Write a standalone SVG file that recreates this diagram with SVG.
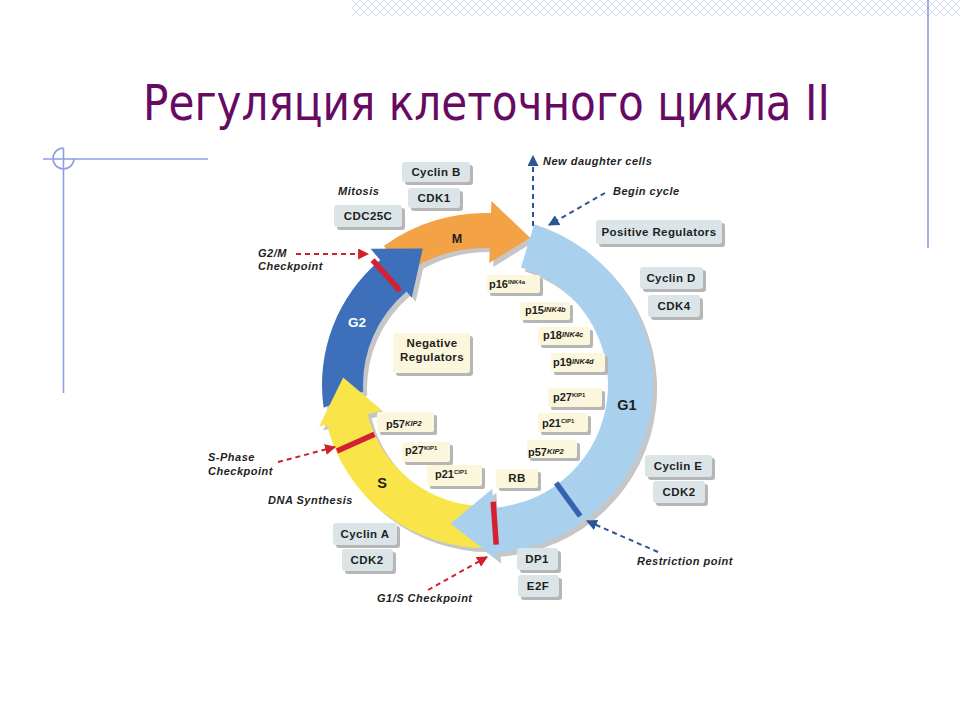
<svg xmlns="http://www.w3.org/2000/svg" width="960" height="720" viewBox="0 0 960 720">
<defs>
<pattern id="hatch" width="8" height="8" patternUnits="userSpaceOnUse">
<path d="M0,0 L8,8 M8,0 L0,8" stroke="#d6daf3" stroke-width="0.9" fill="none"/>
</pattern>
<marker id="ab" viewBox="0 0 10 10" refX="9" refY="5" markerWidth="11" markerHeight="11" markerUnits="userSpaceOnUse" orient="auto">
<path d="M0,0 L10,5 L0,10 z" fill="#2c5597"/>
</marker>
<marker id="ar" viewBox="0 0 10 10" refX="9" refY="5" markerWidth="11" markerHeight="11" markerUnits="userSpaceOnUse" orient="auto">
<path d="M0,0 L10,5 L0,10 z" fill="#d0202c"/>
</marker>
<path id="pG1" d="M534.1,224.3 A168,168 0 0,1 496.7,552.6 L497.2,559.6 L450.4,523.8 L492.3,488.8 L493.6,507.7 A123,123 0 0,0 521.0,267.4 Z"/>
<path id="pS" d="M487.8,548.0 A163,163 0 0,1 326.8,424.4 L319.1,426.4 L343.2,377.6 L382.1,410.6 L367.6,414.3 A121,121 0 0,0 487.1,506.0 Z"/>
<path id="pG2" d="M323.6,407.7 A163,163 0 0,1 380.2,260.1 L370.6,248.7 L422.8,248.5 L411.7,297.7 L406.6,291.5 A122,122 0 0,0 363.2,391.4 Z"/>
<path id="pM" d="M383.9,245.9 A172,172 0 0,1 491.0,213.1 L491.4,201.1 L530.0,237.7 L489.3,263.1 L489.8,248.1 A137,137 0 0,0 404.5,274.2 Z"/>
</defs>
<style>
.deco{stroke:#8f9de4;stroke-width:1.6;fill:none}
.shd{fill:#b6b6b6}
.box{fill:#dbe5e8}
.cream{fill:#fbf6dc}
.bshd{fill:#c6c6c6}
.bt{font-family:"Liberation Sans",Arial,sans-serif;font-weight:bold;font-size:11.5px;letter-spacing:0.4px;fill:#1e1e1e;text-anchor:middle}
.pt{font-family:"Liberation Sans",Arial,sans-serif;font-weight:bold;font-size:11px;fill:#1e1e1e}
.sup{font-size:6px}
.supi{font-size:7.5px;font-style:italic}
.ann{font-family:"Liberation Sans",Arial,sans-serif;font-weight:bold;font-style:italic;font-size:11px;letter-spacing:0.5px;fill:#1e1e1e}
.lbl{font-family:"Liberation Sans",Arial,sans-serif;font-weight:bold;text-anchor:middle}
.dashb{stroke:#2c5597;stroke-width:2;stroke-dasharray:5,4;fill:none}
.dashr{stroke:#d0202c;stroke-width:2;stroke-dasharray:5,4;fill:none}
</style>
<rect width="960" height="720" fill="#ffffff"/>
<g id="decoration">
<rect x="352" y="0" width="608" height="16" fill="url(#hatch)"/>
<line class="deco" x1="928" y1="0" x2="928" y2="248"/>
<line class="deco" x1="43" y1="159" x2="208" y2="159"/>
<line class="deco" x1="63.5" y1="148" x2="63.5" y2="393"/>
<path class="deco" d="M63.5,148 A10.5,10.5 0 1,0 74,158.5"/>
</g>
<text id="title" x="143" y="120" font-family="Tahoma,'DejaVu Sans','Liberation Sans',sans-serif" font-size="49" fill="#660a62" textLength="687" lengthAdjust="spacingAndGlyphs">Регуляция клеточного цикла II</text>
<g id="ring">
<g id="shadows" class="bshd">
<use href="#pM" transform="translate(4,4)"/>
<use href="#pG2" transform="translate(4,4)"/>
<use href="#pS" transform="translate(4,4)"/>
<use href="#pG1" transform="translate(4,4)"/>
</g>
<g id="phase-M"><use href="#pM" fill="#f4a246"/></g>
<g id="phase-G2"><use href="#pG2" fill="#3d6fba"/></g>
<g id="phase-S"><use href="#pS" fill="#f9e44a"/></g>
<g id="phase-G1"><use href="#pG1" fill="#a9d1ee"/></g>
<g id="checkpoints">
<line x1="400.0" y1="290.6" x2="372.6" y2="260.2" stroke="#d42030" stroke-width="5.5"/>
<line x1="374.5" y1="434.2" x2="337.0" y2="450.9" stroke="#d42030" stroke-width="5.5"/>
<line x1="493.2" y1="501.7" x2="496.2" y2="544.6" stroke="#d42030" stroke-width="5.5"/>
<line x1="556.1" y1="482.9" x2="580.2" y2="516.1" stroke="#3563ad" stroke-width="5.5"/>
</g>
<text class="lbl" x="457" y="243" font-size="12.5" fill="#1e1e1e">M</text>
<text class="lbl" x="357" y="327" font-size="13.5" fill="#ffffff">G2</text>
<text class="lbl" x="382" y="488" font-size="14.5" fill="#1e1e1e">S</text>
<text class="lbl" x="627" y="410" font-size="14.5" fill="#1e1e1e">G1</text>
</g>
<g id="connectors">
<line class="dashb" x1="533" y1="226" x2="533" y2="156" marker-end="url(#ab)"/>
<line class="dashb" x1="605" y1="193" x2="549" y2="225" marker-end="url(#ab)"/>
<line class="dashb" x1="658" y1="552" x2="587" y2="521" marker-end="url(#ab)"/>
<line class="dashr" x1="296" y1="254" x2="368" y2="254" marker-end="url(#ar)"/>
<line class="dashr" x1="278" y1="462" x2="335" y2="447" marker-end="url(#ar)"/>
<line class="dashr" x1="428" y1="590" x2="487" y2="557" marker-end="url(#ar)"/>
</g>
<g id="annotations">
<text class="ann" x="543" y="165" font-size="11.5">New daughter cells</text>
<text class="ann" x="613" y="195">Begin cycle</text>
<text class="ann" x="338" y="195">Mitosis</text>
<text class="ann" x="258" y="257">G2/M</text>
<text class="ann" x="258" y="270">Checkpoint</text>
<text class="ann" x="208" y="461">S-Phase</text>
<text class="ann" x="208" y="475">Checkpoint</text>
<text class="ann" x="268" y="504">DNA Synthesis</text>
<text class="ann" x="377" y="602">G1/S Checkpoint</text>
<text class="ann" x="637" y="565">Restriction point</text>
</g>
<g id="cyclinB"><rect class="shd" x="405" y="165" width="68" height="20" rx="3"/><rect class="box" x="402" y="162" width="68" height="20" rx="3"/><text class="bt" x="436" y="176">Cyclin B</text></g>
<g id="cdk1"><rect class="shd" x="411" y="191" width="52" height="20" rx="3"/><rect class="box" x="408" y="188" width="52" height="20" rx="3"/><text class="bt" x="434" y="202">CDK1</text></g>
<g id="cdc25c"><rect class="shd" x="337" y="208" width="68" height="22" rx="3"/><rect class="box" x="334" y="205" width="68" height="22" rx="3"/><text class="bt" x="368" y="220">CDC25C</text></g>
<g id="positive"><rect class="shd" x="599" y="223" width="126" height="24" rx="3"/><rect class="box" x="596" y="220" width="126" height="24" rx="3"/><text class="bt" x="659" y="236">Positive Regulators</text></g>
<g id="cyclinD"><rect class="shd" x="643" y="270" width="63" height="22" rx="3"/><rect class="box" x="640" y="267" width="63" height="22" rx="3"/><text class="bt" x="671" y="282">Cyclin D</text></g>
<g id="cdk4"><rect class="shd" x="651" y="298" width="52" height="22" rx="3"/><rect class="box" x="648" y="295" width="52" height="22" rx="3"/><text class="bt" x="674" y="310">CDK4</text></g>
<g id="cyclinE"><rect class="shd" x="648" y="458" width="67" height="22" rx="3"/><rect class="box" x="645" y="455" width="67" height="22" rx="3"/><text class="bt" x="678" y="470">Cyclin E</text></g>
<g id="cdk2r"><rect class="shd" x="656" y="484" width="52" height="22" rx="3"/><rect class="box" x="653" y="481" width="52" height="22" rx="3"/><text class="bt" x="679" y="496">CDK2</text></g>
<g id="dp1"><rect class="shd" x="520" y="551" width="41" height="22" rx="3"/><rect class="box" x="517" y="548" width="41" height="22" rx="3"/><text class="bt" x="537" y="563">DP1</text></g>
<g id="e2f"><rect class="shd" x="521" y="578" width="41" height="22" rx="3"/><rect class="box" x="518" y="575" width="41" height="22" rx="3"/><text class="bt" x="538" y="590">E2F</text></g>
<g id="cyclinA"><rect class="shd" x="336" y="526" width="64" height="22" rx="3"/><rect class="box" x="333" y="523" width="64" height="22" rx="3"/><text class="bt" x="365" y="538">Cyclin A</text></g>
<g id="cdk2l"><rect class="shd" x="345" y="552" width="51" height="22" rx="3"/><rect class="box" x="342" y="549" width="51" height="22" rx="3"/><text class="bt" x="367" y="564">CDK2</text></g>
<g id="negative"><rect class="shd" x="396" y="336" width="77" height="40" rx="3"/><rect class="cream" x="393" y="333" width="77" height="40" rx="3"/><text class="bt" x="432" y="347">Negative</text><text class="bt" x="432" y="361">Regulators</text></g>
<g id="p16"><rect class="shd" x="490" y="278" width="53" height="18" rx="2"/><rect class="cream" x="487" y="275" width="53" height="18" rx="2"/><text class="pt" x="489" y="288">p16<tspan class="sup" dy="-4">INK4a</tspan></text></g>
<g id="p15"><rect class="shd" x="523" y="305" width="50" height="18" rx="2"/><rect class="cream" x="520" y="302" width="50" height="18" rx="2"/><text class="pt" x="525" y="314">p15<tspan class="supi" dy="-2">INK4b</tspan></text></g>
<g id="p18"><rect class="shd" x="541" y="330" width="52" height="18" rx="2"/><rect class="cream" x="538" y="327" width="52" height="18" rx="2"/><text class="pt" x="543" y="339">p18<tspan class="supi" dy="-2">INK4c</tspan></text></g>
<g id="p19"><rect class="shd" x="554" y="356" width="54" height="19" rx="2"/><rect class="cream" x="551" y="353" width="54" height="19" rx="2"/><text class="pt" x="553" y="366">p19<tspan class="supi" dy="-2">INK4d</tspan></text></g>
<g id="p27r"><rect class="shd" x="551" y="391" width="54" height="19" rx="2"/><rect class="cream" x="548" y="388" width="54" height="19" rx="2"/><text class="pt" x="553" y="401">p27<tspan class="sup" dy="-4">KIP1</tspan></text></g>
<g id="p21r"><rect class="shd" x="541" y="416" width="50" height="19" rx="2"/><rect class="cream" x="538" y="413" width="50" height="19" rx="2"/><text class="pt" x="542" y="427">p21<tspan class="sup" dy="-4">CIP1</tspan></text></g>
<g id="p57r"><rect class="shd" x="530" y="443" width="50" height="18" rx="2"/><rect class="cream" x="527" y="440" width="50" height="18" rx="2"/><text class="pt" x="528" y="456">p57<tspan class="supi" dy="-2">KIP2</tspan></text></g>
<g id="rb"><rect class="shd" x="499" y="472" width="42" height="19" rx="2"/><rect class="cream" x="496" y="469" width="42" height="19" rx="2"/><text class="bt" x="517" y="482">RB</text></g>
<g id="p57l"><rect class="shd" x="380" y="415" width="57" height="20" rx="2"/><rect class="cream" x="377" y="412" width="57" height="20" rx="2"/><text class="pt" x="386" y="428">p57<tspan class="supi" dy="-2">KIP2</tspan></text></g>
<g id="p27l"><rect class="shd" x="405" y="445" width="48" height="20" rx="2"/><rect class="cream" x="402" y="442" width="48" height="20" rx="2"/><text class="pt" x="405" y="454">p27<tspan class="sup" dy="-4">KIP1</tspan></text></g>
<g id="p21l"><rect class="shd" x="430" y="468" width="55" height="21" rx="2"/><rect class="cream" x="427" y="465" width="55" height="21" rx="2"/><text class="pt" x="435" y="478">p21<tspan class="sup" dy="-4">CIP1</tspan></text></g>
</svg>
